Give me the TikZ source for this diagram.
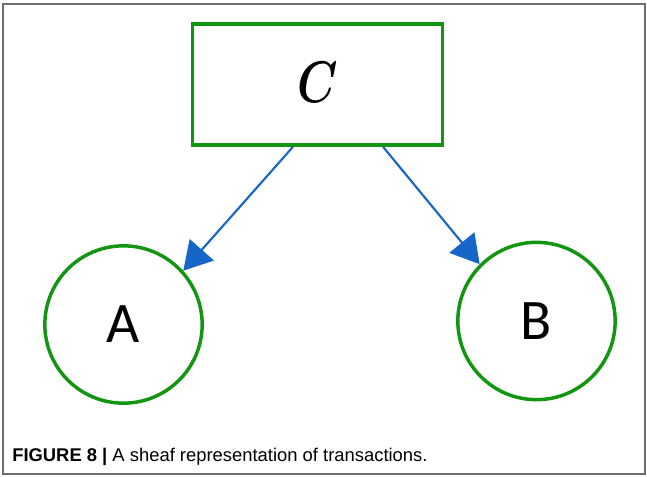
\documentclass[tikz,border=0pt]{standalone}
\usepackage{fix-cm}
\usepackage{amsmath}
\usepackage{fontspec}
\setsansfont{Liberation Sans}
\newfontfamily\calib{Carlito}
\usetikzlibrary{arrows.meta,calc}

\definecolor{boxgreen}{RGB}{18,150,18}
\definecolor{arrowblue}{RGB}{22,102,200}

\begin{document}
\begin{tikzpicture}[x=0.75pt,y=0.75pt,yscale=-1,xscale=1,
  greenbox/.style={draw=boxgreen,line width=2.6pt,minimum width=187.5pt,minimum height=91pt,inner sep=0pt},
  greenring/.style={draw=boxgreen,circle,line width=2.6pt,minimum size=118pt,inner sep=0pt},
  bluearrow/.style={draw=arrowblue,line width=1.6pt,-{Triangle[length=21pt,width=24pt]}}]
\useasboundingbox (0,0) rectangle (647,476);

%frame
\draw [color={rgb, 255:red, 110; green, 110; blue, 110 }, line width=0.9pt] (3,4) rectangle (645,474);

%Shapes
\node [greenbox] (C) at (317.5,84.5) {\raisebox{3pt}{\scalebox{0.78}[1]{\fontsize{44}{48}\selectfont $\boldsymbol{C}$}}};
\node [greenring] (A) at (123.5,324.5) {\calib\fontsize{43}{48}\selectfont A};
\node [greenring] (B) at (536.5,321) {\calib\fontsize{43}{48}\selectfont B};

%Arrows
\draw [bluearrow] ($(C.south west)!0.403!(C.south east)$) -- (A.42);
\draw [bluearrow] ($(C.south west)!0.759!(C.south east)$) -- (B.135);

% Text Node
\draw (12,461) node [anchor=base west][inner sep=0pt] {\sffamily\fontsize{13.8}{16}\selectfont\textbf{FIGURE 8 |} A sheaf representation of transactions.};

\end{tikzpicture}
\end{document}
